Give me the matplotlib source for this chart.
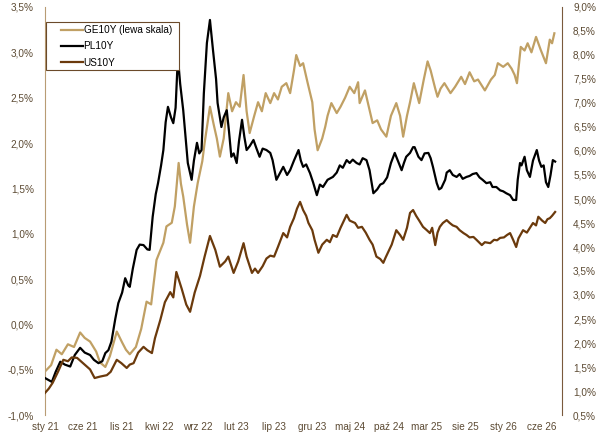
import numpy as np
import matplotlib
matplotlib.use("Agg")
import matplotlib.pyplot as plt
from matplotlib.patches import Rectangle

plt.rcParams['font.family'] = ['Liberation Sans', 'DejaVu Sans']

# time in months since 1 Jan 2021
month_labels = ["sty 21", "cze 21", "lis 21", "kwi 22", "wrz 22", "lut 23", "lip 23",
                "gru 23", "maj 24", "paź 24", "mar 25", "sie 25", "sty 26", "cze 26"]
label_months = [0, 5, 10, 15, 20, 25, 30, 35, 40, 45, 50, 55, 60, 65]

# GE10Y - left axis
ge_t = [0.0, 0.8, 1.5, 2.2, 3.0, 3.8, 4.6, 5.2, 5.9, 6.7, 7.2, 7.9, 8.5, 9.4, 10.1, 10.6,
        11.1, 11.9, 12.6, 13.3, 13.9, 14.6, 15.5, 15.9, 16.6, 17.0, 17.5, 17.8, 18.1, 18.6,
        19.0, 19.5, 20.0, 20.6, 20.9, 21.6, 22.1, 22.5, 22.9, 23.4, 24.0, 24.5, 25.0, 25.5,
        26.0, 26.4, 26.8, 27.4, 27.9, 28.4, 28.9, 29.5, 30.0, 30.5, 31.0, 31.6, 32.1, 32.6,
        32.9, 33.4, 33.8, 34.4, 35.0, 35.3, 35.7, 36.3, 36.7, 37.0, 37.5, 38.2, 38.7, 39.3,
        39.9, 40.5, 41.0, 41.2, 41.9, 42.4, 42.9, 43.5, 44.0, 44.7, 45.3, 46.0, 46.5, 46.9,
        47.4, 47.8, 48.3, 49.0, 49.6, 50.1, 50.5, 51.1, 51.4, 51.8, 52.3, 53.1, 53.7, 54.5,
        55.0, 55.6, 56.2, 56.7, 57.6, 58.4, 58.9, 59.3, 60.0, 60.6, 61.1, 61.5, 61.8, 62.3,
        62.8, 63.2, 63.7, 64.3, 64.9, 65.6, 66.1, 66.4, 66.7]
ge_v = [-0.52, -0.45, -0.28, -0.33, -0.22, -0.25, -0.09, -0.15, -0.19, -0.30, -0.42, -0.47,
        -0.35, -0.08, -0.20, -0.28, -0.33, -0.25, -0.05, 0.25, 0.22, 0.71, 0.90, 1.08, 1.12,
        1.30, 1.78, 1.55, 1.41, 1.10, 0.90, 1.30, 1.56, 1.80, 2.00, 2.40, 2.20, 2.05, 1.85,
        2.05, 2.55, 2.35, 2.45, 2.40, 2.75, 2.35, 2.11, 2.30, 2.45, 2.35, 2.55, 2.44, 2.55,
        2.48, 2.62, 2.66, 2.55, 2.80, 2.97, 2.85, 2.88, 2.66, 2.45, 2.15, 1.92, 2.05, 2.18,
        2.30, 2.44, 2.33, 2.40, 2.50, 2.62, 2.55, 2.67, 2.44, 2.58, 2.40, 2.22, 2.25, 2.15,
        2.07, 2.30, 2.44, 2.30, 2.07, 2.30, 2.45, 2.66, 2.44, 2.70, 2.90, 2.80, 2.60, 2.51,
        2.60, 2.66, 2.55, 2.62, 2.73, 2.65, 2.78, 2.68, 2.70, 2.58, 2.70, 2.75, 2.88, 2.84,
        2.88, 2.82, 2.75, 2.66, 3.06, 3.02, 3.10, 3.00, 3.17, 3.03, 2.88, 3.14, 3.10, 3.21]

# PL10Y - right axis
pl_t = [0.0, 0.9, 1.4, 2.0, 2.6, 3.3, 3.9, 4.6, 5.2, 5.9, 6.4, 7.0, 7.5, 7.9, 8.3, 8.7,
        9.2, 9.6, 10.1, 10.5, 10.9, 11.1, 11.5, 12.0, 12.4, 12.9, 13.4, 13.7, 14.1, 14.5,
        14.8, 15.2, 15.5, 15.8, 16.1, 16.5, 16.8, 17.1, 17.4, 17.7, 18.1, 18.4, 18.7, 19.2,
        19.5, 19.9, 20.2, 20.5, 20.8, 21.2, 21.6, 22.0, 22.4, 22.6, 23.1, 23.4, 23.8, 24.1,
        24.4, 24.7, 25.1, 25.4, 25.8, 26.1, 26.4, 26.8, 27.3, 27.7, 28.1, 28.5, 29.0, 29.5,
        29.8, 30.3, 30.8, 31.2, 31.7, 32.1, 32.6, 33.2, 33.5, 33.8, 34.2, 34.7, 35.1, 35.6,
        36.0, 36.4, 37.0, 37.7, 38.2, 38.6, 39.0, 39.5, 39.9, 40.3, 40.8, 41.2, 41.6, 42.1,
        42.5, 43.0, 43.5, 43.9, 44.3, 44.8, 45.3, 45.8, 46.2, 46.7, 47.0, 47.3, 47.8, 48.2,
        48.4, 48.9, 49.3, 49.7, 50.2, 50.5, 50.8, 51.3, 51.6, 51.9, 52.4, 52.6, 53.0, 53.4,
        53.9, 54.3, 54.7, 55.2, 55.6, 56.0, 56.5, 56.9, 57.3, 57.8, 58.3, 58.6, 59.1, 59.6,
        60.0, 60.4, 60.9, 61.3, 61.7, 61.9, 62.2, 62.4, 62.8, 63.1, 63.5, 63.9, 64.4, 64.7,
        65.0, 65.3, 65.6, 65.9, 66.2, 66.5, 66.8]
pl_v = [1.27, 1.19, 1.40, 1.61, 1.55, 1.51, 1.75, 1.90, 1.80, 1.75, 1.65, 1.58, 1.62, 1.79,
        1.85, 2.03, 2.50, 2.83, 3.05, 3.35, 3.20, 3.17, 3.55, 3.94, 4.05, 4.04, 3.95, 3.94,
        4.63, 5.10, 5.33, 5.70, 6.02, 6.60, 6.92, 6.70, 6.58, 6.90, 7.96, 7.40, 6.85, 6.30,
        5.75, 5.40, 5.80, 6.17, 5.95, 6.02, 7.20, 8.25, 8.73, 8.10, 7.50, 7.00, 6.50, 6.70,
        6.85, 6.40, 5.88, 5.95, 5.75, 6.20, 6.65, 6.30, 6.02, 6.10, 6.23, 6.05, 5.88, 6.05,
        6.02, 5.96, 5.81, 5.40, 5.55, 5.67, 5.50, 5.60, 5.80, 6.02, 5.80, 5.67, 5.72, 5.54,
        5.35, 5.08, 5.30, 5.25, 5.40, 5.46, 5.55, 5.70, 5.65, 5.81, 5.75, 5.82, 5.75, 5.72,
        5.85, 5.81, 5.60, 5.12, 5.20, 5.30, 5.33, 5.45, 5.75, 5.96, 5.80, 5.60, 5.75, 5.88,
        5.96, 6.08, 6.08, 5.88, 5.81, 5.95, 5.96, 5.85, 5.67, 5.33, 5.20, 5.23, 5.40, 5.55,
        5.60, 5.50, 5.46, 5.52, 5.42, 5.46, 5.48, 5.52, 5.54, 5.45, 5.40, 5.33, 5.35, 5.25,
        5.25, 5.18, 5.16, 5.12, 5.08, 4.98, 4.98, 5.40, 5.75, 5.70, 5.88, 5.60, 5.46, 5.80,
        6.02, 5.80, 5.67, 5.70, 5.35, 5.25, 5.50, 5.81, 5.78]

# US10Y - right axis
us_t = [0.0, 0.5, 1.0, 1.7, 2.4, 3.0, 3.5, 4.2, 4.7, 5.5, 5.9, 6.5, 7.2, 8.1, 8.6, 9.4,
        10.0, 10.7, 11.1, 11.6, 12.2, 12.9, 13.4, 14.0, 14.4, 15.1, 15.7, 16.4, 16.8, 17.2,
        17.9, 18.5, 19.0, 19.6, 20.3, 20.9, 21.6, 22.3, 22.9, 23.6, 24.0, 24.7, 25.3, 26.0,
        26.4, 27.1, 27.5, 27.9, 28.5, 29.0, 29.5, 30.0, 30.5, 31.2, 31.7, 32.1, 32.6, 33.0,
        33.4, 33.8, 34.2, 34.5, 35.0, 35.3, 35.8, 36.3, 36.9, 37.3, 37.7, 38.2, 38.7, 39.5,
        39.9, 40.6, 41.0, 41.5, 42.0, 42.5, 42.9, 43.4, 43.9, 44.3, 44.6, 44.9, 45.4, 46.0,
        46.5, 46.9, 47.4, 47.8, 48.2, 48.6, 49.0, 49.5, 50.0, 50.4, 50.7, 51.1, 51.4, 51.7,
        52.1, 52.6, 53.0, 53.4, 53.9, 54.3, 54.8, 55.2, 55.6, 56.1, 56.5, 57.2, 57.6, 58.3,
        58.8, 59.2, 59.6, 60.1, 60.5, 60.9, 61.3, 61.7, 62.0, 62.6, 63.1, 63.5, 63.9, 64.3,
        64.6, 65.1, 65.5, 65.8, 66.1, 66.4, 66.8]
us_v = [0.96, 1.05, 1.17, 1.40, 1.65, 1.62, 1.70, 1.69, 1.62, 1.51, 1.45, 1.27, 1.30, 1.33,
        1.40, 1.65, 1.58, 1.48, 1.55, 1.58, 1.80, 1.92, 1.85, 1.79, 2.10, 2.48, 2.85, 3.06,
        2.95, 3.48, 3.13, 2.80, 2.65, 3.05, 3.40, 3.80, 4.23, 3.94, 3.59, 3.70, 3.80, 3.46,
        3.70, 4.08, 3.80, 3.46, 3.55, 3.46, 3.60, 3.76, 3.82, 3.80, 4.00, 4.29, 4.20, 4.42,
        4.60, 4.80, 4.94, 4.77, 4.65, 4.50, 4.35, 4.15, 3.88, 4.05, 4.15, 4.10, 4.25, 4.21,
        4.40, 4.67, 4.55, 4.50, 4.40, 4.42, 4.30, 4.15, 4.05, 3.80, 3.75, 3.67, 3.78, 3.88,
        4.05, 4.35, 4.25, 4.15, 4.40, 4.71, 4.77, 4.65, 4.55, 4.42, 4.35, 4.29, 4.40, 4.04,
        4.30, 4.42, 4.50, 4.56, 4.50, 4.45, 4.42, 4.35, 4.29, 4.25, 4.20, 4.21, 4.15, 4.04,
        4.10, 4.08, 4.15, 4.14, 4.19, 4.20, 4.25, 4.29, 4.15, 4.00, 4.18, 4.35, 4.30, 4.40,
        4.50, 4.45, 4.63, 4.55, 4.50, 4.58, 4.60, 4.65, 4.73]

ge_color = '#c0a064'
pl_color = '#000000'
us_color = '#6b3a0c'
txt_color = '#5c4a33'

fig = plt.figure(figsize=(5.98, 4.44), dpi=100)
ax = fig.add_axes([45/598, 1 - 415/444, 517/598, 408/444])
ax2 = ax.twinx()

ax.plot(ge_t, ge_v, color=ge_color, lw=1.6)
ax2.plot(pl_t, pl_v, color=pl_color, lw=1.6)
ax2.plot(us_t, us_v, color=us_color, lw=1.6)

ax.set_xlim(0, 67.7)
ax.set_ylim(-1.0, 3.5)
ax2.set_ylim(0.5, 9.0)

ax.set_yticks(np.arange(-1.0, 3.51, 0.5))
ax.set_yticklabels([f"{v:.1f}%".replace('.', ',') for v in np.arange(-1.0, 3.51, 0.5)])
ax2.set_yticks(np.arange(0.5, 9.01, 0.5))
ax2.set_yticklabels([f"{v:.1f}%".replace('.', ',') for v in np.arange(0.5, 9.01, 0.5)])
ax.set_xticks(label_months)
ax.set_xticklabels(month_labels)

for a in (ax, ax2):
    a.tick_params(length=0, labelsize=7.2, labelcolor=txt_color)
    a.spines['top'].set_visible(False)
    a.spines['bottom'].set_visible(False)
ax.tick_params(axis='y', pad=8)
ax.tick_params(axis='x', pad=5)
ax2.tick_params(axis='y', pad=8)
ax.spines['right'].set_visible(False)
ax2.spines['left'].set_visible(False)
ax.spines['left'].set_color('#b89c74')
ax2.spines['right'].set_color('#7a5a3c')

# legend box, drawn by hand to match the original layout
tr = ax2.transAxes
def fx(px):
    return (px - 45) / 517
def fy(py):
    return (415 - py) / 408
ax2.add_patch(Rectangle((fx(45.5), fy(70)), fx(179) - fx(45.5), fy(22) - fy(70),
                        transform=tr, facecolor='white', edgecolor='#6b4a2a', lw=0.8, zorder=5))
for name, col, py in [("GE10Y (lewa skala)", ge_color, 30),
                      ("PL10Y", pl_color, 46),
                      ("US10Y", us_color, 62.5)]:
    ax2.plot([fx(61), fx(83)], [fy(py), fy(py)], color=col, lw=1.6, transform=tr, zorder=6)
    ax2.text(fx(83.5), fy(py), name, transform=tr, fontsize=7.2, color='black',
             va='center', ha='left', zorder=6)

fig.savefig("out.png", dpi=100)
